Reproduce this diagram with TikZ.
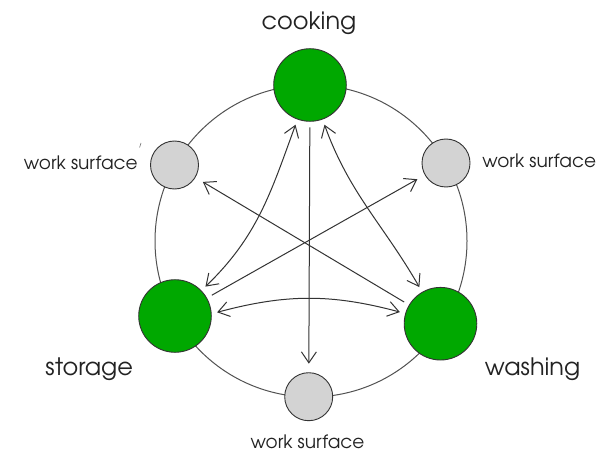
\documentclass[tikz,border=0pt]{standalone}
\usepackage{fontspec}
\setmainfont{TeX Gyre Adventor}
\usetikzlibrary{arrows.meta}
\definecolor{kgreen}{HTML}{00A800}
\definecolor{kgray}{HTML}{D3D3D3}
\definecolor{kline}{HTML}{333333}
\definecolor{ktext}{HTML}{222222}
\tikzset{
  greennode/.style={circle, draw=kline, line width=0.9pt, fill=kgreen, minimum size=72.6pt, inner sep=0pt, outer sep=6pt},
  graynode/.style={circle, draw=kline, line width=0.9pt, fill=kgray, minimum size=48pt, inner sep=0pt, outer sep=9pt},
  bigtext/.style={anchor=base, text=ktext, font=\fontsize{24}{28}\selectfont, inner sep=0pt},
  smalltext/.style={anchor=base, text=ktext, font=\fontsize{18.5}{22}\selectfont, inner sep=0pt},
  arrone/.style={draw=kline, line width=1pt, -{Straight Barb[length=11pt,width=15pt]}},
  arrtwo/.style={draw=kline, line width=1pt, {Straight Barb[length=11pt,width=15pt]}-{Straight Barb[length=11pt,width=15pt]}},
}
\begin{document}
\begin{tikzpicture}[x=1pt,y=1pt]
\useasboundingbox (0,0) rectangle (607,453);
\fill[white] (0,0) rectangle (607,453);
% ring
\coordinate (ctr) at (311,212);
\draw[kline!85, line width=1pt] (ctr) circle (156);
% nodes
\node[greennode] (cook) at (310,368) {};
\node[greennode] (stor) at (175,137) {};
\node[greennode] (wash) at (440.5,129.3) {};
\node[graynode] (wsL) at (174.5,288) {};
\node[graynode] (wsR) at (446,290) {};
\node[graynode] (wsB) at (308.7,56.3) {};
% labels
\node[bigtext] (tcook) at (309,423) {cooking};
\node[bigtext] (tstor) at (89.2,78) {storage};
\node[bigtext] (twash) at (532.5,78) {washing};
\node[smalltext] (twsL) at (80.8,283) {work surface};
\node[smalltext] (twsR) at (539.2,285) {work surface};
\node[smalltext] (twsB) at (307.5,5) {work surface};
% stray tick
\coordinate (tickA) at (139.6,305.5);
\coordinate (tickB) at (141,310);
\draw[kline!70, line width=0.6pt] (tickA) -- (tickB);
% connectors
\draw[arrone] (cook) -- (wsB);
\draw[arrone] (stor) -- (wsR);
\draw[arrone] (wash) -- (wsL);
\draw[arrtwo] (stor) to[out=44,in=250] (cook);
\draw[arrtwo] (wash) to[out=120,in=290] (cook);
\draw[arrtwo] (stor.5) to[out=15,in=165] (wash.164);
\end{tikzpicture}
\end{document}
